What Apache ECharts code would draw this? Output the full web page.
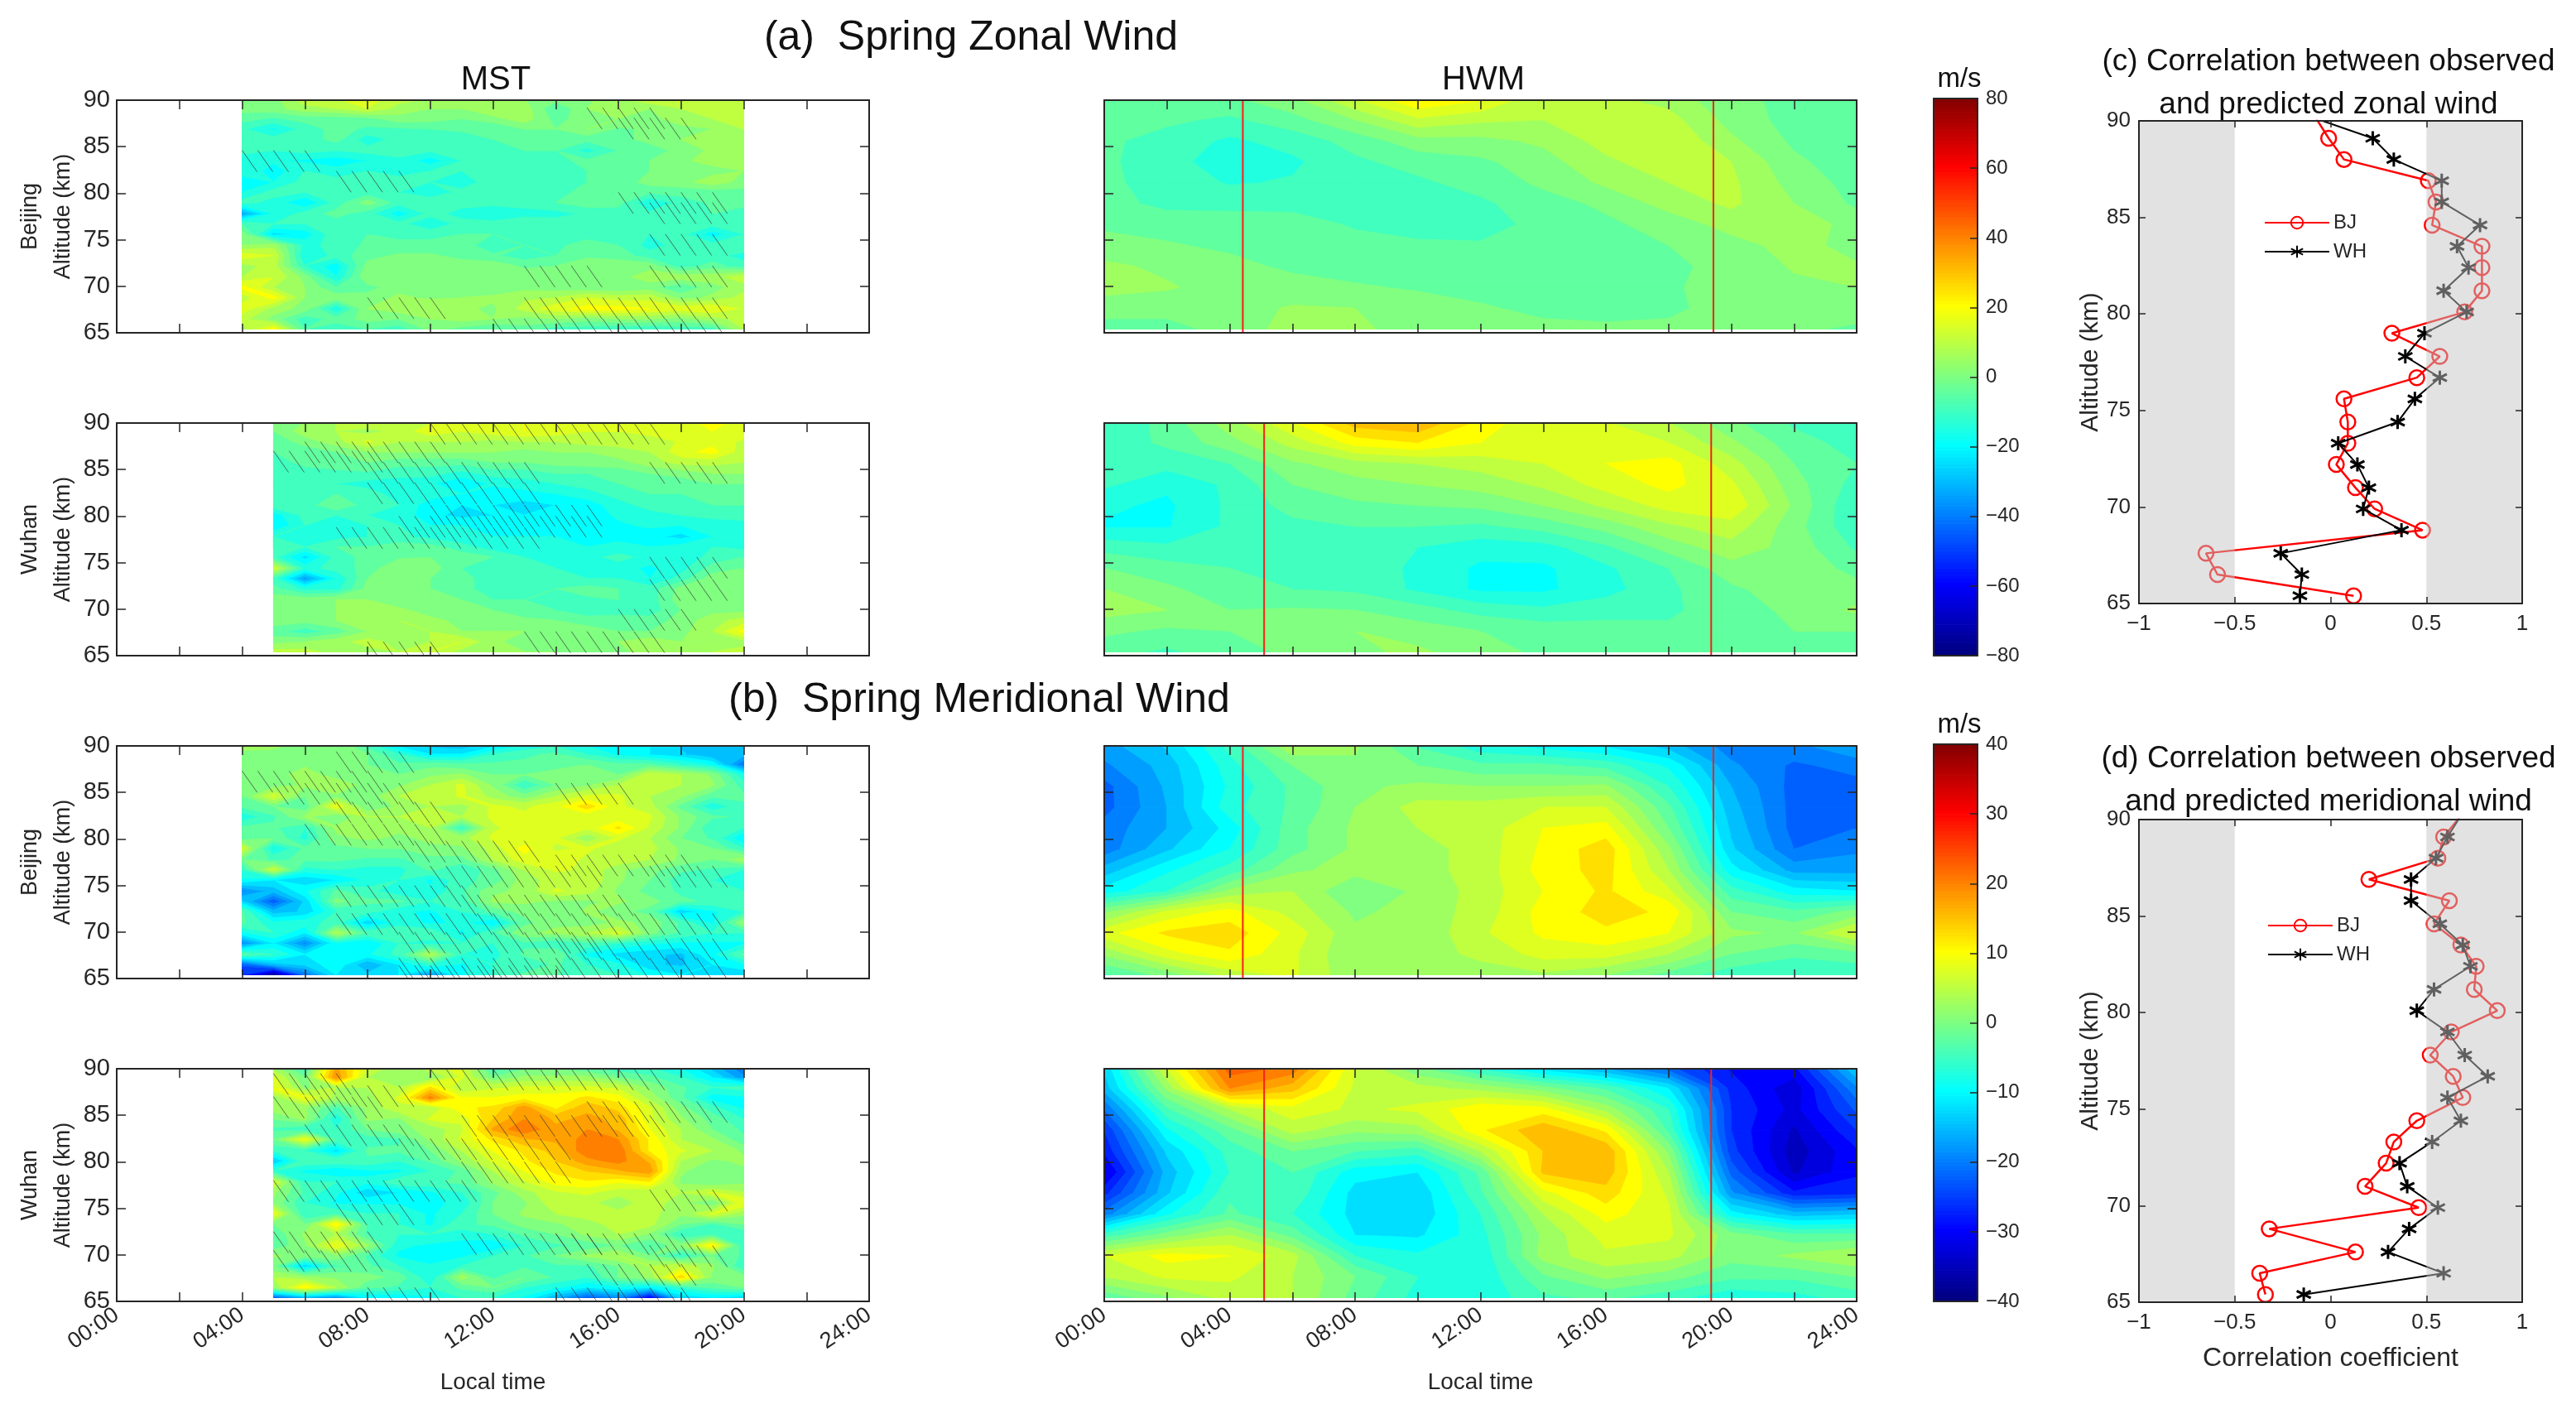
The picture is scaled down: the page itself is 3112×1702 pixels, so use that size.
<!DOCTYPE html>
<html>
<head>
<meta charset="utf-8">
<style>html,body{margin:0;padding:0;background:#fff}#chart{width:3112px;height:1702px}</style>
<script src="https://cdn.jsdelivr.net/npm/echarts@6/dist/echarts.min.js"></script>
</head>
<body>
<div id="chart"></div>
<script>
// altitude rows (km) and local time columns (h)
var mstAlt = [65.4,66.5,67.6,68.8,69.9,71,72.2,73.3,74.4,75.6,76.7,77.8,79,80.1,81.2,82.4,83.5,84.6,85.8,86.9,88,89.1,90.2];
var hwmAlt = [65.4,67.65,69.9,72.15,74.4,76.65,78.9,81.15,83.4,85.65,87.9,90.15];
var hwmTime = [0,2,4,6,8,10,12,14,16,18,20,22,24];
var mstTimeBJ = [4,5,6,7,8,9,10,11,12,13,14,15,16,17,18,19,20];
var mstTimeWH = [5,6,7,8,9,10,11,12,13,14,15,16,17,18,19,20];

var zonalMstBJ = [
[8,22,-5,-8,-5,-8,2,-2,-5,-2,-8,-8,-10,-10,-8,-8,10],
[12,3,-8,-3,2,0,5,7,5,3,5,2,5,5,3,8,12],
[18,8,3,-15,5,8,10,6,4,12,18,22,22,20,18,20,14],
[12,22,5,3,2,6,4,5,6,9,10,15,12,13,3,6,12],
[22,10,5,-5,-2,3,3,2,1,3,2,0,0,2,-5,3,8],
[10,15,3,-15,5,2,3,4,5,3,3,5,3,8,8,8,13],
[8,12,-10,-18,2,2,3,3,3,-1,0,3,3,3,-8,-3,-8],
[18,15,-15,-8,-2,1,1,-2,-4,-8,-5,-1,-2,-8,-9,-8,-12],
[5,8,-12,-8,-4,-4,-4,-2,-9,-5,-6,-3,-5,-12,-8,-8,-6],
[3,-22,-18,-6,-5,-6,-6,-5,-5,-6,-7,-7,-9,-10,-8,-18,-10],
[-5,-10,-10,-8,-8,-8,-15,-8,-8,-6,-7,-10,-9,-8,-8,-8,-9],
[-32,-14,-8,-3,-8,-18,-8,-12,-15,-12,-12,-9,-8,-9,-7,-5,-8],
[-8,-12,-20,-8,3,-8,-8,-8,-8,-8,-5,-2,-3,-15,-8,-4,-3],
[-15,-8,-10,-8,-8,-10,-12,-9,-9,-8,-6,-4,-3,-4,-3,-3,-2],
[-20,-15,-8,-8,-10,-8,-10,-12,-8,-8,-6,-5,-3,2,3,8,3],
[-10,-18,-10,-13,-10,-12,-10,-10,-8,-6,-6,-5,-3,0,2,3,5],
[-15,-14,-16,-18,-15,-11,-18,-10,-6,-6,-6,-4,-3,0,4,7,6],
[-7,-10,-8,-10,-8,-8,-9,-6,-7,-5,-5,-12,-5,-3,2,6,8],
[-8,-8,-8,-3,-13,-8,-6,-8,-5,-2,-2,-3,-2,2,5,5,8],
[-9,-16,-8,-3,-6,-6,-5,-4,-5,0,0,5,-1,1,3,5,10],
[-3,-6,-3,-3,-2,3,2,0,3,8,-2,3,5,3,8,10,13],
[2,3,8,10,15,8,5,5,10,8,-5,5,8,5,10,12,13],
[0,3,14,15,18,12,10,8,5,5,3,3,10,15,17,14,13]
];
var zonalMstWH = [
[12,12,8,8,10,15,8,5,5,5,3,3,8,8,10,12],
[3,5,8,12,8,10,15,6,3,2,3,5,8,5,5,8],
[-3,-8,-3,5,8,10,5,5,5,3,3,0,0,3,10,22],
[3,2,5,8,10,6,4,3,1,0,-3,-2,-3,2,8,12],
[5,3,5,8,6,3,2,0,-3,-5,-8,-8,-8,0,3,3],
[3,3,5,5,2,0,0,-5,-5,-8,-6,-5,-8,3,3,3],
[-3,-12,-12,2,2,0,-3,-8,-8,-5,-3,-5,-8,2,5,3],
[-8,-33,-15,0,1,0,-3,-8,-7,-9,-10,-10,-15,-8,3,2],
[15,-12,-8,-3,5,3,-5,-6,-8,-10,-15,-13,-16,-12,-3,0],
[-8,-22,-8,-3,-1,0,-2,-5,-10,-13,-12,-8,-12,-14,-8,-5],
[-10,-10,-5,-5,-3,-3,-8,-13,-14,-14,-15,-14,-15,-13,-10,-12],
[-10,-12,-12,-10,-8,-12,-14,-15,-15,-15,-18,-16,-18,-22,-15,-15],
[-20,-10,-12,-10,-10,-15,-15,-18,-18,-17,-18,-16,-14,-15,-14,-12],
[-18,-8,-10,-10,-12,-18,-22,-20,-20,-20,-18,-14,-12,-10,-8,-8],
[-6,-8,0,-8,-10,-18,-20,-20,-22,-20,-18,-12,-8,-6,-5,-5],
[-9,-8,-5,-8,-12,-12,-15,-18,-17,-15,-12,-8,-5,-5,-3,-3],
[-8,-10,-10,-12,-13,-14,-20,-14,-12,-10,-8,-5,-3,-3,0,0],
[-10,-8,-6,-6,-8,-8,-12,-8,-8,-5,-5,-3,0,2,5,5],
[-8,-3,-3,0,-3,-3,-3,0,0,2,3,3,8,12,12,10],
[-5,-3,0,5,5,5,5,5,3,5,5,8,10,18,22,12],
[-3,2,8,16,10,10,10,8,10,10,12,12,10,16,18,14],
[0,8,10,8,12,18,15,18,20,18,15,15,18,15,20,18],
[0,5,10,15,12,14,15,15,20,15,15,15,15,18,22,18]
];
var meridMstBJ = [
[-25,-38,-20,-10,-12,-10,-17,-8,-5,-2,-2,-5,-5,-8,-10,-12,-12],
[-22,-14,-12,-8,-15,-10,-5,-8,-5,-5,-2,-5,-7,-12,-13,-10,-8],
[-2,-5,-10,-8,-8,-4,5,-5,-6,-2,0,-8,-11,-12,-13,-8,-2],
[-18,-10,-18,-8,-10,-5,-6,-5,-5,-3,-5,-3,-5,-7,-8,-8,-8],
[-8,-5,-10,5,-3,-3,-3,-8,-3,2,3,5,8,1,-3,-5,-5],
[-2,-7,-6,-4,-12,-6,-8,-7,-10,-1,2,1,3,2,-3,-8,3],
[-2,-14,-12,-5,-4,-7,-8,-5,-2,1,0,3,1,-1,-12,-8,-5],
[-12,-22,-12,1,-2,-2,-5,-4,3,3,2,2,3,1,-2,-3,-3],
[-18,-14,-8,-2,-4,-7,-7,-3,2,3,8,6,2,-1,-3,-5,-5],
[-8,-10,-12,-10,-7,-5,-8,-3,-2,4,6,7,3,0,-4,-5,-6],
[-5,7,-6,-5,-6,-6,-2,-5,-1,5,8,7,3,1,-2,-3,-5],
[0,-3,-2,-2,-3,-3,-1,-1,5,9,9,7,7,5,2,0,4],
[8,-8,-2,-1,0,0,2,2,6,11,7,8,6,6,2,0,-5],
[-2,0,-6,2,3,2,3,4,8,8,8,3,8,5,0,-3,-10],
[-2,-2,-5,3,4,3,5,-5,7,9,9,8,13,7,2,-5,-5],
[-7,-3,3,0,5,5,5,5,8,8,8,8,8,8,2,-2,-3],
[-2,0,-2,10,0,3,5,4,8,7,9,14,8,6,-1,-7,-3],
[0,8,0,2,1,5,5,8,4,1,5,8,8,5,3,-2,-2],
[0,1,3,5,1,2,5,8,2,-5,0,2,5,6,5,3,-4],
[0,1,4,1,1,0,2,3,0,0,2,1,0,7,5,2,-7],
[0,0,2,2,0,-2,-1,-2,-2,-2,-2,0,-2,-2,-5,-8,-20],
[1,1,2,1,0,-5,-10,-10,-5,-3,-2,-5,-8,-10,-12,-15,-14],
[5,4,1,3,-5,-12,-14,-15,-12,-8,-6,-8,-8,-10,-13,-14,-12]
];
var meridMstWH = [
[-22,-15,-18,-10,-10,-8,-5,-5,-8,-15,-22,-18,-30,-12,-10,-12],
[3,12,5,-2,-3,-5,-2,0,-5,-7,-10,-8,-10,-5,-2,0],
[5,3,2,1,-1,-7,4,-3,0,-3,-5,0,3,14,2,1],
[0,-12,-3,-2,-5,-7,-5,-5,-3,-3,-3,0,5,7,3,-5],
[3,1,2,-3,-8,-10,-8,-5,-3,0,3,5,0,-5,0,-3],
[-2,2,10,3,-7,-8,-8,-10,-5,-3,-2,0,-3,2,12,-5],
[-2,3,5,-3,-5,-5,-7,-5,-2,0,3,5,2,-5,-3,-5],
[0,0,12,-3,-5,-8,-3,-2,1,2,4,6,6,0,-3,0],
[10,-5,-3,-5,-5,-8,-5,0,3,5,6,6,6,3,8,3],
[2,-5,-8,-8,-8,-8,-7,0,2,7,6,3,7,3,0,10],
[3,-3,-7,-12,-10,-8,-5,-1,4,7,8,6,5,5,8,5],
[8,-5,-5,-7,-3,-3,-2,3,7,11,12,10,12,2,0,2],
[-5,-8,-10,-8,-8,-5,-2,5,10,13,15,17,19,3,0,2],
[-13,-3,-3,-3,-5,-2,3,8,12,15,19,21,17,5,2,3],
[-5,-5,-11,-2,-2,0,5,10,13,16,22,22,12,8,5,2],
[0,10,-3,-4,-3,3,8,13,17,18,21,20,12,5,3,-2],
[-3,-5,-5,0,2,3,7,18,22,18,20,17,10,5,0,-3],
[0,3,-7,3,2,8,8,15,20,17,18,17,8,3,-1,-5],
[4,3,-3,3,7,5,12,13,19,12,17,14,8,1,-4,-8],
[3,10,4,4,8,21,10,10,11,11,13,11,4,-2,-9,-8],
[10,2,5,5,5,13,5,7,8,8,8,7,2,-2,-5,-4],
[8,0,20,5,4,2,8,0,3,3,3,0,-2,-5,-10,-17],
[3,-5,18,8,3,7,8,-5,-1,-1,-3,-5,-5,-8,-14,-20]
];
var zonalHwmBJ = [
[-2,-2,2,7,6,3,2,1,1,1,1,1,-1],
[2,2,3,5.5,5,2,0.5,-1,-2,-1,2,3,3],
[7,5.5,3,2,0.5,-0.5,-1.5,-3,-4.5,-0.5,1.5,4,5],
[6,4,1.5,-1,-2,-3,-3.5,-4,-4,-1,1.5,5.5,5.5],
[2,0.5,-1,-2.5,-3.5,-4,-4.5,-4.5,-3,0,3,7,3],
[-1,-2,-2.5,-3,-5.5,-7.5,-7,-3.5,-1,2,7,8,3],
[-3,-6.5,-6.5,-6.5,-6.5,-7,-6,-2,1,7,11,5,-1],
[-4,-7,-10.5,-9.5,-7,-6,-3,1,6,10,11,3,-2],
[-4,-8,-13,-11,-6,-3,-1,3,9,13,10,1,-3],
[-4,-7,-11,-8,-3,3,3.5,6,12,14.5,6,-1,-3],
[-3,-4,-6,-2,5,14,11,10,13,12,3,-2,-3],
[-3,-3,-1,4,15,25,21,11,11,8,1,-1,-3]
];
var zonalHwmWH = [
[-3,-6,-2,1,4,6,2,-1,-2,-2,-2,-1,-3],
[1,-1,0,2.5,5,2.5,0,-2,-3,-4,-4,0,0],
[7,5,0,0.5,0,-3,-7,-9,-7,-6,-2,1,6],
[5,1,-3,-5,-6,-11,-16,-16,-12,-6,-1,3,2],
[0,-3,-5,-6,-7,-11,-16,-16,-11,-5,3,4,-2],
[-7,-9,-8,-7,-7,-10,-13,-12,-6,2,8,3,-6],
[-15.5,-15.5,-9,-6.5,-5,-5,-6,-3,2,9,13,2,-9],
[-14,-16,-9,-3,-1,0,1,5,11,17,19,4,-10],
[-9,-14,-9,0,3,5,7,11,17,21.5,16,2,-7],
[-7,-8,-5,4,8,10,12,15,20,22,12,0,-5],
[-8,-4,3,12,22,25,20,15,18,15,6,-3,-7],
[-10,-3,8,20,33,35,24,15,15,10,1,-6,-10]
];
var meridHwmBJ = [
[-3,1,6,8,3,3,4,4.5,2.5,-1,-4,-5,-4.5],
[3,9,12,8,2.5,4,5.5,8.5,8.5,5,0,-2,-1],
[9,13,14,9,3,3,7,10.5,12,10,3,2,8],
[2,8,11,6.5,2,3.5,6,11,13.5,12,0,-2,1],
[-9,-5,3,5,0,3,6,10,13,8,-4,-9,-10],
[-14,-8,-4,2,3.5,4,6,11,13.5,5,-9,-16,-16],
[-19,-13,-7.5,-1,3,4,6,10.5,14,3,-12,-20,-18],
[-19,-15,-9,-1,3,5,6,10,11,0,-13,-21,-20],
[-21,-15,-6,-2,2.5,6,6,7.5,7.5,-2,-14,-21,-21],
[-21,-14.5,-7,-2,2,3,2.5,2.5,3,-5,-15,-21,-21],
[-18,-14,-6,0,2,0,-2,-2,-3.5,-8,-17,-20.5,-19],
[-16,-12,-4,5,3,-3,-7,-9,-11,-14,-19,-18,-15]
];
var meridHwmWH = [
[-2,2,6,5,-1,-6,-7,-3,-2,-4,-7,-6,-4],
[5,8,8,5,0,-5,-7,-0.5,3,1,-2,-2,0],
[7.5,11,10,6,-5,-7,-7,3.5,7,6,1,3,5],
[-4,1,5,-1,-10,-10.5,-6,3,8.5,8,1,-2,-2],
[-19,-8,-2,-5,-11,-12,-5,5,11,8,-9,-14,-13],
[-26,-13,-3,-3,-11,-12,-3,9,14,7,-17,-27,-26],
[-31,-14,-5,-2.5,-9,-10,-2,15.5,16.5,5,-21,-33,-28],
[-27,-12,-4,0,-2.5,-4,5,15,17,2,-24,-34,-28],
[-25,-8,-1,6,3,4,12,17,12,-3,-25,-33,-25],
[-20,-3,5,9,7,8,12,11,4,-5,-25,-31,-22],
[-14,3,20,16,7,6,4,1,-3,-10,-26,-32,-18],
[-12,8,24,22,7.5,0,-6,-12,-16,-22,-28,-28,-12]
];

// hatched significance rows: start hour, end hour, top altitude of the stroke
var hatchZonalBJ = [[4,6,84.6],[7,9,82.4],[15,17,89.2],[16,18,88.1],[16,19,80.1],[17,19,79],[17,19,75.6],[13,15,72.2],[17,19,72.2],[8,10,68.8],[13,19,68.8],[12,19,66.5]];
var hatchZonalWH = [[10,17,90],[6,10,88],[5,8,87],[8,13,85.8],[17,19,85.8],[8,13,83.6],[10,15,81.2],[9,15,80],[7,13,78.8],[17,19,75.6],[17,19,73.2],[16,18,70],[13,17,67.6],[8,10,66.5]];
var hatchMeridBJ = [[7,9,89.4],[4,8,87.3],[5,9,86],[7,10,84],[6,10,81.6],[9,13,79.8],[14,18,78.3],[14,16,86],[10,15,77.1],[17,19,77.1],[7,11,75],[11,16,74],[7,19,72],[9,15,70],[14,19,69.3],[9,19,67.2],[9,14,66.4]];
var hatchMeridWH = [[10,17,90],[5,7,89.5],[6,9,88.2],[5,8,87],[15,19,86.5],[11,17,85],[6,9,84],[9,14,82.5],[11,14,80],[5,11,78],[17,19,77],[7,9,75.5],[5,8,72.5],[11,15,72.3],[14,18,72.3],[17,19,71],[5,8,70.5],[15,18,69],[8,10,66.5],[14,18,66.5]];

// sunrise and sunset lines on the HWM panels
var sunBJ = [4.42,19.43];
var sunWH = [5.1,19.36];

// correlation profiles, bottom to top
var corrAlt = [65.4,66.5,67.6,68.8,69.9,71,72.2,73.3,74.4,75.6,76.7,77.8,79,80.1,81.2,82.4,83.5,84.6,85.8,86.9,88,89.1,90.2];
var zonalCorrBJ = [0.12,-0.59,-0.65,0.48,0.23,0.13,0.03,0.09,0.09,0.07,0.45,0.57,0.32,0.70,0.79,0.79,0.79,0.53,0.55,0.51,0.07,-0.01,-0.08];
var zonalCorrWH = [-0.16,-0.15,-0.26,0.37,0.17,0.20,0.14,0.04,0.35,0.44,0.57,0.39,0.49,0.71,0.59,0.72,0.66,0.78,0.58,0.58,0.33,0.22,-0.1];
var meridCorrBJ = [-0.34,-0.37,0.13,-0.32,0.46,0.18,0.29,0.33,0.45,0.69,0.64,0.52,0.63,0.87,0.75,0.76,0.68,0.54,0.62,0.20,0.56,0.59,0.68];
var meridCorrWH = [-0.14,0.59,0.30,0.41,0.56,0.40,0.36,0.53,0.68,0.61,0.82,0.70,0.61,0.45,0.54,0.73,0.69,0.57,0.42,0.42,0.55,0.61,0.68];
var shadedRanges = [[-1,-0.5],[0.5,1]];

var plain = '"Liberation Sans",sans-serif';
var ink = '#262626';

function jet(f) {
  var stops = [[0,0,0,127],[0.125,0,0,255],[0.375,0,255,255],[0.625,255,255,0],[0.875,255,0,0],[1,127,0,0]];
  f = Math.max(0, Math.min(1, f));
  for (var i = 1; i < stops.length; i++) {
    if (f <= stops[i][0]) {
      var a = stops[i-1], b = stops[i], k = (f - a[0]) / (b[0] - a[0]);
      return 'rgb(' + Math.round(a[1]+(b[1]-a[1])*k) + ',' + Math.round(a[2]+(b[2]-a[2])*k) + ',' + Math.round(a[3]+(b[3]-a[3])*k) + ')';
    }
  }
  return 'rgb(127,0,0)';
}

// keep the part of a polygon whose value is above (sign 1) or below (sign -1) a level
function clipBand(pts, level, sign) {
  var out = [];
  for (var i = 0; i < pts.length; i++) {
    var p = pts[i], q = pts[(i + 1) % pts.length];
    var pin = (p[2] - level) * sign >= 0, qin = (q[2] - level) * sign >= 0;
    if (pin) out.push(p);
    if (pin !== qin) {
      var k = (level - p[2]) / (q[2] - p[2]);
      out.push([p[0] + (q[0]-p[0])*k, p[1] + (q[1]-p[1])*k, level]);
    }
  }
  return out;
}

var grids = [], xAxes = [], yAxes = [], series = [];

function addPanel(box, o) {
  var g = grids.length;
  grids.push({left: box[0], top: box[1], width: box[2], height: box[3], containLabel: false});
  var tick = {show: true, inside: true, length: o.tickLen || 11, lineStyle: {color: ink, width: 1.5}};
  var line = {show: true, onZero: false, lineStyle: {color: ink, width: 2}};
  var ix = xAxes.length, iy = yAxes.length;
  var xBase = {gridIndex: g, type: 'value', min: o.xMin, max: o.xMax, interval: o.xStep, splitLine: {show: false}, axisLine: line, axisTick: tick, z: 6};
  var yBase = {gridIndex: g, type: 'value', min: o.yMin, max: o.yMax, interval: o.yStep, splitLine: {show: false}, axisLine: line, axisTick: tick, z: 6};
  xAxes.push(Object.assign({}, xBase, {position: 'bottom', axisLabel: o.xLabel || {show: false}, name: o.xName, nameLocation: 'middle', nameGap: o.xGap, nameTextStyle: o.xNameStyle}));
  xAxes.push(Object.assign({}, xBase, {position: 'top', axisLabel: {show: false}}));
  yAxes.push(Object.assign({}, yBase, {position: 'left', axisLabel: o.yLabel || {show: false}, name: o.yName, nameLocation: 'middle', nameGap: o.yGap, nameTextStyle: o.yNameStyle}));
  yAxes.push(Object.assign({}, yBase, {position: 'right', axisLabel: {show: false}}));
  return {x: ix, y: iy};
}

function addContour(ax, field, times, alts, step, range) {
  var cells = [];
  for (var r = 0; r + 1 < alts.length; r++) {
    for (var c = 0; c + 1 < times.length; c++) {
      cells.push([times[c], alts[r], times[c+1], alts[r+1], field[r][c], field[r][c+1], field[r+1][c], field[r+1][c+1]]);
    }
  }
  series.push({
    type: 'custom', xAxisIndex: ax.x, yAxisIndex: ax.y, data: cells, clip: true, silent: true, z: 2,
    encode: {x: [0, 2], y: [1, 3]},
    renderItem: function (params, api) {
      var t0 = api.value(0), a0 = api.value(1), t1 = api.value(2), a1 = api.value(3);
      var v = [api.value(4), api.value(5), api.value(6), api.value(7)];
      var p00 = api.coord([t0, a0]), p10 = api.coord([t1, a0]), p01 = api.coord([t0, a1]), p11 = api.coord([t1, a1]);
      var quad = [[p00[0],p00[1],v[0]], [p10[0],p10[1],v[1]], [p11[0],p11[1],v[3]], [p01[0],p01[1],v[2]]];
      var lo = Math.floor(Math.min.apply(null, v) / step), hi = Math.floor(Math.max.apply(null, v) / step);
      var kids = [];
      for (var k = lo; k <= hi; k++) {
        var band = clipBand(clipBand(quad, k * step, 1), (k + 1) * step, -1);
        if (band.length < 3) continue;
        var col = jet((k * step + range) / (2 * range));
        kids.push({type: 'polygon', shape: {points: band.map(function (p) { return [p[0], p[1]]; })}, style: {fill: col, stroke: col, lineWidth: 1}});
      }
      return {type: 'group', children: kids};
    }
  });
}

function addHatch(ax, rows) {
  var marks = [];
  rows.forEach(function (row) {
    for (var t = row[0]; t <= row[1]; t += 0.5) marks.push([t, row[2], t + 0.48, row[2] - 2.3]);
  });
  series.push({
    type: 'custom', xAxisIndex: ax.x, yAxisIndex: ax.y, data: marks, clip: true, silent: true, z: 3,
    encode: {x: [0, 2], y: [1, 3]},
    renderItem: function (params, api) {
      var a = api.coord([api.value(0), api.value(1)]), b = api.coord([api.value(2), api.value(3)]);
      return {type: 'line', shape: {x1: a[0], y1: a[1], x2: b[0], y2: b[1]}, style: {stroke: '#333', lineWidth: 0.7, fill: null}};
    }
  });
}

function addSunLines(ax, hours) {
  hours.forEach(function (h) {
    series.push({type: 'line', xAxisIndex: ax.x, yAxisIndex: ax.y, data: [[h, 65], [h, 90]], symbol: 'none', silent: true, z: 4, lineStyle: {color: '#f5211a', width: 2}});
  });
}

function timeLabel(v) {
  if (v % 4 !== 0) return '';
  return (v < 10 ? '0' : '') + v + ':00';
}

var rowTops = [121, 511, 901, 1291];
var rowH = 281, colW = 909, mstX = 141, hwmX = 1334;
var rowInfo = [
  {yName: 'Beijing\nAltitude (km)', z: zonalMstBJ, zh: zonalHwmBJ, t: mstTimeBJ, h: hatchZonalBJ, s: sunBJ, step: 5, range: 80},
  {yName: 'Wuhan\nAltitude (km)', z: zonalMstWH, zh: zonalHwmWH, t: mstTimeWH, h: hatchZonalWH, s: sunWH, step: 5, range: 80},
  {yName: 'Beijing\nAltitude (km)', z: meridMstBJ, zh: meridHwmBJ, t: mstTimeBJ, h: hatchMeridBJ, s: sunBJ, step: 2.5, range: 40},
  {yName: 'Wuhan\nAltitude (km)', z: meridMstWH, zh: meridHwmWH, t: mstTimeWH, h: hatchMeridWH, s: sunWH, step: 2.5, range: 40}
];

rowInfo.forEach(function (row, i) {
  var last = i === rowInfo.length - 1;
  var xLabel = last ? {show: true, rotate: 34, margin: 14, fontFamily: plain, fontSize: 27, color: ink, formatter: timeLabel} : null;
  var base = {xMin: 0, xMax: 24, xStep: 2, yMin: 65, yMax: 90, yStep: 5, xLabel: xLabel};
  var xTitle = last ? {xName: 'Local time', xGap: 84, xNameStyle: {fontFamily: plain, fontSize: 28, color: ink}} : {};
  var mstAx = addPanel([mstX, rowTops[i], colW, rowH], Object.assign({}, base, xTitle, {
    yLabel: {show: true, margin: 8, fontFamily: plain, fontSize: 29, color: ink},
    yName: row.yName, yGap: 32, yNameStyle: {fontFamily: plain, fontSize: 27, color: ink, lineHeight: 40}
  }));
  addContour(mstAx, row.z, row.t, mstAlt, row.step, row.range);
  addHatch(mstAx, row.h);
  var hwmAx = addPanel([hwmX, rowTops[i], colW, rowH], Object.assign({}, base, xTitle));
  addContour(hwmAx, row.zh, hwmTime, hwmAlt, row.step, row.range);
  addSunLines(hwmAx, row.s);
});

// colorbars
function addColorbar(top, height, range, step) {
  var ax = addPanel([2336, top, 53, height], {
    xMin: 0, xMax: 1, xStep: 1, yMin: -range, yMax: range, yStep: step, tickLen: 9,
    yLabel: {show: false}
  });
  var levels = [];
  for (var i = 0; i < 160; i++) levels.push([0, -range + 2 * range * i / 160, 1, -range + 2 * range * (i + 1) / 160]);
  series.push({
    type: 'custom', xAxisIndex: ax.x, yAxisIndex: ax.y, data: levels, silent: true, z: 2,
    encode: {x: [0, 2], y: [1, 3]},
    renderItem: function (params, api) {
      var a = api.coord([api.value(0), api.value(1)]), b = api.coord([api.value(2), api.value(3)]);
      var col = jet((api.value(1) + range) / (2 * range));
      return {type: 'rect', shape: {x: a[0], y: b[1], width: b[0] - a[0], height: a[1] - b[1]}, style: {fill: col, stroke: col, lineWidth: 1}};
    }
  });
  // the right-hand axis carries the numbers
  var right = yAxes[ax.y + 1];
  right.axisLabel = {show: true, margin: 10, fontFamily: plain, fontSize: 24, color: ink, formatter: function (v) { return String(v).replace('-', '\u2212'); }};
  xAxes[ax.x].axisTick = {show: false};
  xAxes[ax.x + 1].axisTick = {show: false};
  yAxes[ax.y].axisTick = {show: false};
}
addColorbar(119, 673, 80, 20);
addColorbar(899, 673, 40, 10);

// correlation panels
function addCorr(box, bj, wh, xName) {
  var ax = addPanel(box, {
    xMin: -1, xMax: 1, xStep: 0.5, yMin: 65, yMax: 90, yStep: 5, tickLen: 8,
    xLabel: {show: true, margin: 12, fontFamily: plain, fontSize: 26, color: ink, formatter: function (v) { return String(v).replace('-', '\u2212'); }},
    yLabel: {show: true, margin: 10, fontFamily: plain, fontSize: 26, color: ink},
    xName: xName, xGap: 52, xNameStyle: {fontFamily: plain, fontSize: 32, color: ink},
    yName: 'Altitude (km)', yGap: 40, yNameStyle: {fontFamily: plain, fontSize: 30, color: ink}
  });
  series.push({
    name: 'BJ', type: 'line', xAxisIndex: ax.x, yAxisIndex: ax.y, z: 3, clip: true,
    data: bj.map(function (v, i) { return [v, corrAlt[i]]; }),
    symbol: 'circle', symbolSize: 18,
    itemStyle: {color: 'rgba(255,255,255,0)', borderColor: '#ff0000', borderWidth: 2.5},
    lineStyle: {color: '#ff0000', width: 2.5}
  });
  series.push({
    name: 'WH', type: 'line', xAxisIndex: ax.x, yAxisIndex: ax.y, z: 4, clip: true,
    data: wh.map(function (v, i) { return [v, corrAlt[i]]; }),
    symbol: 'path://M0 -5L0 5M-4.33 -2.5L4.33 2.5M-4.33 2.5L4.33 -2.5', symbolSize: 17,
    itemStyle: {color: '#000', borderColor: '#000', borderWidth: 3},
    lineStyle: {color: '#000', width: 2}
  });
  series.push({
    type: 'custom', xAxisIndex: ax.x, yAxisIndex: ax.y, data: shadedRanges, silent: true, z: 5,
    encode: {x: [0, 1]},
    renderItem: function (params, api) {
      var a = api.coord([api.value(0), 90]), b = api.coord([api.value(1), 65]);
      return {type: 'rect', shape: {x: a[0], y: a[1], width: b[0] - a[0], height: b[1] - a[1]}, style: {fill: 'rgba(196,196,196,0.49)'}};
    }
  });
}
addCorr([2584, 146, 463, 583], zonalCorrBJ, zonalCorrWH);
addCorr([2584, 990, 463, 583], meridCorrBJ, meridCorrWH, 'Correlation coefficient');

function centred(text, x, y, size, lineH) {
  return {text: text, left: x, top: y, textAlign: 'center', textStyle: {fontFamily: plain, fontSize: size, fontWeight: 'normal', color: '#111', lineHeight: lineH}};
}

var legendText = {fontFamily: plain, fontSize: 24, color: ink};
var option = {
  backgroundColor: '#fff',
  animation: false,
  title: [
    centred('(a)  Spring Zonal Wind', 1168, 16, 50),
    centred('(b)  Spring Meridional Wind', 1178, 816, 50),
    centred('MST', 594, 72, 40),
    centred('HWM', 1787, 72, 40),
    centred('m/s', 2362, 74, 33),
    centred('m/s', 2362, 854, 33),
    centred('(c) Correlation between observed\nand predicted zonal wind', 2808, 44, 37, 52),
    centred('(d) Correlation between observed\nand predicted meridional wind', 2808, 886, 37, 52)
  ],
  legend: [
    {left: 2730, top: 252, orient: 'vertical', itemWidth: 78, itemHeight: 18, itemGap: 11, data: ['BJ', 'WH'], textStyle: legendText},
    {left: 2734, top: 1101, orient: 'vertical', itemWidth: 78, itemHeight: 18, itemGap: 11, data: ['BJ', 'WH'], textStyle: legendText}
  ],
  grid: grids,
  xAxis: xAxes,
  yAxis: yAxes,
  series: series
};

var chart = echarts.init(document.getElementById('chart'));
chart.setOption(option);
</script>
</body>
</html>
